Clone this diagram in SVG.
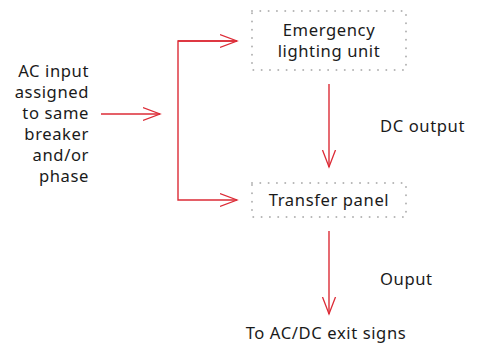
<svg xmlns="http://www.w3.org/2000/svg" width="477" height="345" viewBox="0 0 477 345">
<defs>
<marker id="ah" markerWidth="20" markerHeight="16" refX="17" refY="7" orient="auto" markerUnits="userSpaceOnUse" viewBox="0 0 20 14">
<path d="M0,0.5 L17,7 L0,13.5" fill="none" stroke="#dc2b36" stroke-width="1.3"/>
</marker>
<style>
.t{font-family:"Noto Sans","Open Sans",sans-serif;font-size:16.6px;letter-spacing:0.6px;fill:#1a1a1a}
.box{fill:none;stroke:#b4b4b4;stroke-width:2;stroke-dasharray:0.01 8.3;stroke-linecap:round}
.c{fill:none;stroke:#dc2b36;stroke-width:1.4}
</style>
</defs>
<rect width="477" height="345" fill="#fff"/>
<g id="input">
<text class="t" text-anchor="end" x="89" y="77">AC input</text>
<text class="t" text-anchor="end" x="89" y="98">assigned</text>
<text class="t" text-anchor="end" x="89" y="119">to same</text>
<text class="t" text-anchor="end" x="89" y="140">breaker</text>
<text class="t" text-anchor="end" x="89" y="161">and/or</text>
<text class="t" text-anchor="end" x="89" y="182">phase</text>
</g>
<g id="emergency">
<rect class="box" x="252" y="11" width="154" height="59"/>
<text class="t" text-anchor="middle" x="329" y="36">Emergency</text>
<text class="t" text-anchor="middle" x="329" y="57.2">lighting unit</text>
</g>
<g id="transfer">
<rect class="box" x="252" y="183" width="154" height="34"/>
<text class="t" text-anchor="middle" x="329" y="206">Transfer panel</text>
</g>
<g id="exit">
<text class="t" text-anchor="middle" x="326" y="339">To AC/DC exit signs</text>
</g>
<g id="connectors">
<line class="c" x1="101" y1="114" x2="160" y2="114" marker-end="url(#ah)"/>
<path class="c" d="M237,41 H178 V200 H237" marker-end="url(#ah)"/>
<line class="c" x1="178" y1="41" x2="237" y2="41" marker-end="url(#ah)"/>
<line class="c" x1="329" y1="84" x2="329" y2="167" marker-end="url(#ah)"/>
<line class="c" x1="329" y1="231" x2="329" y2="314" marker-end="url(#ah)"/>
<text class="t" x="380" y="132">DC output</text>
<text class="t" x="380" y="285">Ouput</text>
</g>
</svg>
